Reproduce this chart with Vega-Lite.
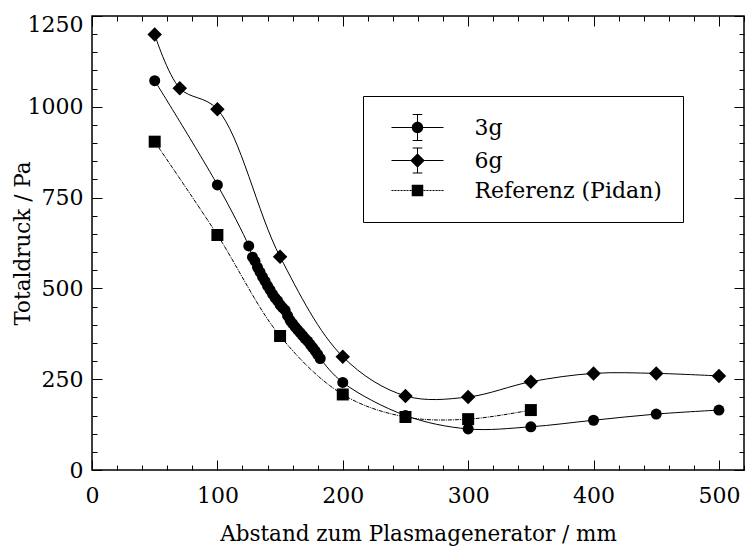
{
  "$schema": "https://vega.github.io/schema/vega-lite/v6.json",
  "width": 652,
  "height": 454,
  "autosize": {"type": "none"},
  "padding": {"left": 92, "top": 16, "right": 2, "bottom": 76},
  "background": "white",
  "config": {
    "view": {"stroke": "black", "strokeWidth": 1.5},
    "font": "DejaVu Serif",
    "axis": {
      "labelFont": "DejaVu Serif",
      "titleFont": "DejaVu Serif",
      "labelColor": "black",
      "titleColor": "black",
      "labelFontSize": 22,
      "titleFontSize": 21.5,
      "titleFontWeight": "normal",
      "grid": false,
      "domain": false,
      "tickColor": "black",
      "tickWidth": 1,
      "labelOverlap": false,
      "labelFlush": false,
      "labelBound": false
    },
    "legend": {
      "orient": "none",
      "legendX": 271,
      "legendY": 80,
      "strokeColor": "black",
      "strokeWidth": 1,
      "padding": 20.5,
      "labelFont": "DejaVu Serif",
      "labelFontSize": 22,
      "labelColor": "black",
      "labelOffset": 46,
      "symbolSize": 100,
      "symbolStrokeWidth": 0,
      "symbolFillColor": "black",
      "symbolOpacity": 1,
      "symbolOffset": 23,
      "rowPadding": 6,
      "labelLimit": 400
    }
  },
  "datasets": {
    "d": [
      {"serie": "3g", "abstand": 50, "druck": 1072},
      {"serie": "3g", "abstand": 100, "druck": 785},
      {"serie": "3g", "abstand": 125, "druck": 617},
      {"serie": "3g", "abstand": 128, "druck": 586},
      {"serie": "3g", "abstand": 130, "druck": 575},
      {"serie": "3g", "abstand": 132, "druck": 558},
      {"serie": "3g", "abstand": 134, "druck": 545},
      {"serie": "3g", "abstand": 136, "druck": 532},
      {"serie": "3g", "abstand": 138, "druck": 520},
      {"serie": "3g", "abstand": 140, "druck": 507},
      {"serie": "3g", "abstand": 142, "druck": 496},
      {"serie": "3g", "abstand": 144, "druck": 484},
      {"serie": "3g", "abstand": 146, "druck": 474},
      {"serie": "3g", "abstand": 148, "druck": 466},
      {"serie": "3g", "abstand": 150, "druck": 455},
      {"serie": "3g", "abstand": 152, "druck": 447},
      {"serie": "3g", "abstand": 154, "druck": 440},
      {"serie": "3g", "abstand": 156, "druck": 425},
      {"serie": "3g", "abstand": 158, "druck": 412},
      {"serie": "3g", "abstand": 160, "druck": 403},
      {"serie": "3g", "abstand": 162, "druck": 394},
      {"serie": "3g", "abstand": 164, "druck": 386},
      {"serie": "3g", "abstand": 166, "druck": 378},
      {"serie": "3g", "abstand": 168, "druck": 370},
      {"serie": "3g", "abstand": 170, "druck": 362},
      {"serie": "3g", "abstand": 172, "druck": 355},
      {"serie": "3g", "abstand": 174, "druck": 346},
      {"serie": "3g", "abstand": 176, "druck": 337},
      {"serie": "3g", "abstand": 178, "druck": 328},
      {"serie": "3g", "abstand": 180, "druck": 318},
      {"serie": "3g", "abstand": 182, "druck": 307},
      {"serie": "3g", "abstand": 200, "druck": 241},
      {"serie": "3g", "abstand": 250, "druck": 150},
      {"serie": "3g", "abstand": 300, "druck": 113},
      {"serie": "3g", "abstand": 350, "druck": 119},
      {"serie": "3g", "abstand": 400, "druck": 137},
      {"serie": "3g", "abstand": 450, "druck": 154},
      {"serie": "3g", "abstand": 500, "druck": 165},
      {"serie": "6g", "abstand": 50, "druck": 1199},
      {"serie": "6g", "abstand": 70, "druck": 1051},
      {"serie": "6g", "abstand": 100, "druck": 993},
      {"serie": "6g", "abstand": 150, "druck": 587},
      {"serie": "6g", "abstand": 200, "druck": 312},
      {"serie": "6g", "abstand": 250, "druck": 204},
      {"serie": "6g", "abstand": 300, "druck": 201},
      {"serie": "6g", "abstand": 350, "druck": 243},
      {"serie": "6g", "abstand": 400, "druck": 266},
      {"serie": "6g", "abstand": 450, "druck": 266},
      {"serie": "6g", "abstand": 500, "druck": 259},
      {"serie": "Referenz (Pidan)", "abstand": 50, "druck": 904},
      {"serie": "Referenz (Pidan)", "abstand": 100, "druck": 647},
      {"serie": "Referenz (Pidan)", "abstand": 150, "druck": 369},
      {"serie": "Referenz (Pidan)", "abstand": 200, "druck": 208},
      {"serie": "Referenz (Pidan)", "abstand": 250, "druck": 146},
      {"serie": "Referenz (Pidan)", "abstand": 300, "druck": 140},
      {"serie": "Referenz (Pidan)", "abstand": 350, "druck": 165}
    ]
  },
  "layer": [
    {
      "data": {"name": "d"},
      "encoding": {
        "x": {
          "field": "abstand",
          "type": "quantitative",
          "scale": {"domain": [0, 520], "nice": false, "zero": false},
          "axis": {
            "orient": "bottom",
            "values": [0,20,40,60,80,100,120,140,160,180,200,220,240,260,280,300,320,340,360,380,400,420,440,460,480,500,520],
            "format": "d",
            "labelExpr": "datum.value % 100 === 0 ? datum.label : ''",
            "tickSize": {"condition": {"test": "datum.value % 100 === 0", "value": -10}, "value": -5},
            "labelPadding": 42,
            "labelBaseline": "alphabetic",
            "title": "Abstand zum Plasmagenerator / mm",
            "titleX": 326,
            "titleY": 70,
            "titleBaseline": "alphabetic",
            "titleAlign": "center",
            "titleAnchor": null
          }
        },
        "y": {
          "field": "druck",
          "type": "quantitative",
          "scale": {"domain": [0, 1250], "nice": false, "zero": false},
          "axis": {
            "orient": "left",
            "values": [0,50,100,150,200,250,300,350,400,450,500,550,600,650,700,750,800,850,900,950,1000,1050,1100,1150,1200,1250],
            "format": "d",
            "labelExpr": "datum.value % 250 === 0 ? datum.label : ''",
            "tickSize": {"condition": {"test": "datum.value % 250 === 0", "value": -10}, "value": -5},
            "labelPadding": 19,
            "labelAlign": "right",
            "labelBaseline": {"condition": {"test": "datum.value === 1250", "value": "alphabetic"}, "value": "middle"},
            "labelOffset": {"condition": {"test": "datum.value === 1250", "value": 15}, "value": 0},
            "title": "Totaldruck / Pa",
            "titleX": -69,
            "titleY": 227,
            "titleAngle": -90,
            "titleAlign": "center",
            "titleBaseline": "middle",
            "titleAnchor": null
          }
        }
      },
      "layer": [
        {
          "transform": [{"filter": "datum.serie === '3g'"}],
          "mark": {"type": "line", "interpolate": "catmull-rom", "color": "black", "strokeWidth": 1}
        },
        {
          "transform": [{"filter": "datum.serie === '6g'"}],
          "mark": {"type": "line", "interpolate": "catmull-rom", "color": "black", "strokeWidth": 1}
        },
        {
          "transform": [{"filter": "datum.serie === 'Referenz (Pidan)'"}],
          "mark": {"type": "line", "interpolate": "catmull-rom", "color": "black", "strokeWidth": 1, "strokeDash": [4, 1, 1, 1]}
        },
        {
          "transform": [{"filter": "datum.serie === '3g'"}],
          "mark": {"type": "point", "shape": "circle", "size": 121, "filled": true, "color": "black", "opacity": 1}
        },
        {
          "transform": [{"filter": "datum.serie === '6g'"}],
          "mark": {"type": "point", "shape": "diamond", "size": 210, "filled": true, "color": "black", "opacity": 1}
        },
        {
          "transform": [{"filter": "datum.serie === 'Referenz (Pidan)'"}],
          "mark": {"type": "point", "shape": "square", "size": 144, "filled": true, "color": "black", "opacity": 1}
        },
        {
          "transform": [{"filter": "false"}],
          "mark": {"type": "point", "filled": true, "color": "black", "opacity": 1},
          "encoding": {
            "shape": {
              "field": "serie",
              "type": "nominal",
              "scale": {
                "domain": ["3g", "6g", "Referenz (Pidan)"],
                "range": [
                  "M-5.2,-0.1H5.2V0.1H-5.2ZM-0.1,-2.6H0.1V2.6H-0.1ZM-0.96,-2.7H0.96V-2.5H-0.96ZM-0.96,2.5H0.96V2.7H-0.96ZM-1.14,0A1.14,1.14,0,1,1,1.14,0A1.14,1.14,0,1,1,-1.14,0Z",
                  "M-5.2,-0.1H5.2V0.1H-5.2ZM-0.1,-2.5H0.1V2.5H-0.1ZM-0.96,-2.6H0.96V-2.4H-0.96ZM-0.96,2.4H0.96V2.6H-0.96ZM-1.45,0L0,-1.45L1.45,0L0,1.45Z",
                  "M-5.2,-0.1H-4.8V0.1H-5.2ZM-4.6,-0.1H-4.2V0.1H-4.6ZM-4,-0.1H-3.6V0.1H-4ZM-3.4,-0.1H-3V0.1H-3.4ZM-2.8,-0.1H-2.4V0.1H-2.8ZM-2.2,-0.1H-1.8V0.1H-2.2ZM-1.6,-0.1H-1.2V0.1H-1.6ZM1.2,-0.1H1.6V0.1H1.2ZM1.8,-0.1H2.2V0.1H1.8ZM2.4,-0.1H2.8V0.1H2.4ZM3,-0.1H3.4V0.1H3ZM3.6,-0.1H4V0.1H3.6ZM4.2,-0.1H4.6V0.1H4.2ZM4.8,-0.1H5.2V0.1H4.8ZM-1.15,-1.15H1.15V1.15H-1.15Z"
                ]
              },
              "legend": {
                "title": null,
                "labelExpr": "datum.label + '\u00a0\u00a0\u00a0'"
              }
            }
          }
        }
      ]
    },
    {
      "data": {"name": "d"},
      "transform": [{"filter": "false"}],
      "mark": {"type": "point"},
      "encoding": {
        "x": {
          "field": "abstand",
          "type": "quantitative",
          "scale": {"domain": [0, 520], "nice": false, "zero": false},
          "axis": {
            "orient": "top",
            "values": [0,20,40,60,80,100,120,140,160,180,200,220,240,260,280,300,320,340,360,380,400,420,440,460,480,500,520],
            "labels": false,
            "title": null,
            "tickSize": {"condition": {"test": "datum.value % 100 === 0", "value": -10}, "value": -5}
          }
        },
        "y": {
          "field": "druck",
          "type": "quantitative",
          "scale": {"domain": [0, 1250], "nice": false, "zero": false},
          "axis": {
            "orient": "right",
            "values": [0,50,100,150,200,250,300,350,400,450,500,550,600,650,700,750,800,850,900,950,1000,1050,1100,1150,1200,1250],
            "labels": false,
            "title": null,
            "tickSize": {"condition": {"test": "datum.value % 250 === 0", "value": -10}, "value": -5}
          }
        }
      }
    }
  ],
  "resolve": {"axis": {"x": "independent", "y": "independent"}}
}
